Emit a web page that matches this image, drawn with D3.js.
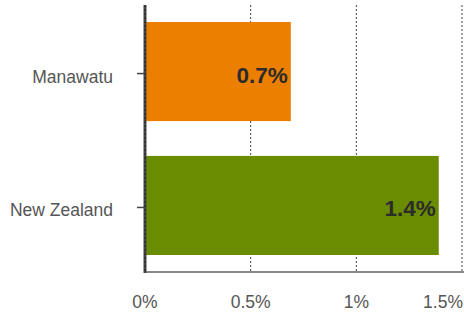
<!DOCTYPE html>
<html>
<head>
<meta charset="utf-8">
<script src="https://cdn.jsdelivr.net/npm/d3@7"></script>
<style>
  body { margin: 0; background: #fff; }
  svg { display: block; font-family: "Liberation Sans", Arial, sans-serif; }
</style>
</head>
<body>
<svg id="chart" width="464" height="316"></svg>
<script>
// Chart data
const categories = ["Manawatu", "New Zealand"];
const values = [0.69, 1.39];
const valueLabels = ["0.7%", "1.4%"];
const barColors = ["#ED7F00", "#6A8C00"];
const xTicks = [0, 0.5, 1, 1.5];
const xTickLabels = ["0%", "0.5%", "1%", "1.5%"];

const svg = d3.select("#chart");

// Plot area
const plotLeft = 145, plotRight = 462, plotTop = 5, plotBottom = 272;

const x = d3.scaleLinear()
    .domain([0, 1.5])
    .range([plotLeft, plotRight]);

const y = d3.scaleBand()
    .domain(categories)
    .range([plotTop, plotBottom])
    .paddingInner(0.26)
    .paddingOuter(0.127);

// Dotted gridlines
svg.append("g")
    .selectAll("line")
    .data(xTicks.slice(1))
    .join("line")
    .attr("x1", d => x(d))
    .attr("x2", d => x(d))
    .attr("y1", plotTop)
    .attr("y2", plotBottom)
    .attr("stroke", "#444")
    .attr("stroke-width", 1)
    .attr("stroke-dasharray", "2,2");

// Bars
svg.append("g")
    .selectAll("rect")
    .data(values)
    .join("rect")
    .attr("x", x(0))
    .attr("y", (d, i) => y(categories[i]))
    .attr("width", d => x(d) - x(0))
    .attr("height", y.bandwidth())
    .attr("fill", (d, i) => barColors[i]);

// Value labels inside bars
svg.append("g")
    .selectAll("text")
    .data(values)
    .join("text")
    .attr("x", d => x(d) - 3)
    .attr("y", (d, i) => y(categories[i]) + y.bandwidth() / 2 + 11)
    .attr("text-anchor", "end")
    .attr("font-size", 22.5)
    .attr("font-weight", "bold")
    .attr("fill", "#2b2b2b")
    .text((d, i) => valueLabels[i]);

// Bottom axis line
svg.append("line")
    .attr("x1", plotLeft)
    .attr("x2", 464)
    .attr("y1", plotBottom)
    .attr("y2", plotBottom)
    .attr("stroke", "#888")
    .attr("stroke-width", 2);

// Left axis line
svg.append("line")
    .attr("x1", plotLeft)
    .attr("x2", plotLeft)
    .attr("y1", plotTop)
    .attr("y2", plotBottom + 1)
    .attr("stroke", "#444")
    .attr("stroke-width", 3);

svg.append("line")
    .attr("x1", plotLeft)
    .attr("x2", plotLeft)
    .attr("y1", plotTop)
    .attr("y2", plotBottom)
    .attr("stroke", "#222")
    .attr("stroke-width", 1)
    .attr("stroke-dasharray", "2,2");

// Category ticks and labels
const yAxis = svg.append("g");
yAxis.selectAll("line")
    .data(categories)
    .join("line")
    .attr("x1", plotLeft - 8)
    .attr("x2", plotLeft)
    .attr("y1", d => y(d) + y.bandwidth() / 2 + 2)
    .attr("y2", d => y(d) + y.bandwidth() / 2 + 2)
    .attr("stroke", "#444")
    .attr("stroke-width", 1.5);

yAxis.selectAll("text")
    .data(categories)
    .join("text")
    .attr("x", 113)
    .attr("y", d => y(d) + y.bandwidth() / 2 + 11)
    .attr("text-anchor", "end")
    .attr("font-size", 17.5)
    .attr("fill", "#555")
    .text(d => d);

// X tick labels
svg.append("g")
    .selectAll("text")
    .data(xTicks)
    .join("text")
    .attr("x", (d, i) => i === xTicks.length - 1 ? 463 : x(d))
    .attr("y", 308)
    .attr("text-anchor", (d, i) => i === xTicks.length - 1 ? "end" : "middle")
    .attr("font-size", 17.5)
    .attr("fill", "#555")
    .text((d, i) => xTickLabels[i]);
</script>
</body>
</html>
